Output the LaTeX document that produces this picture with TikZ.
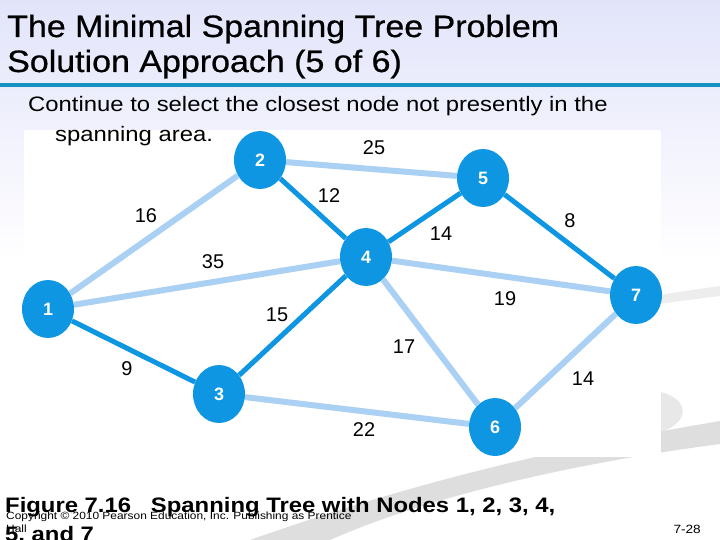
\documentclass[tikz,border=0pt]{standalone}
\usepackage{fontspec}
\setmainfont{Liberation Sans}
\newfontfamily\slidefont[FakeStretch=1.14]{Liberation Sans}
\newfontfamily\headfont[FakeStretch=1.10,FakeBold=0.7]{Liberation Sans}
\usetikzlibrary{shapes.geometric}

\definecolor{nodeblue}{RGB}{14,150,226}
\definecolor{edgelight}{RGB}{170,209,243}
\definecolor{rulecol}{RGB}{22,146,192}
\definecolor{lavender}{RGB}{226,228,250}

\tikzset{
  vertex/.style={ellipse, fill=nodeblue, minimum width=52bp, minimum height=58bp,
    inner sep=0pt, text=white, font=\fontsize{18}{18}\selectfont\bfseries},
  lightedge/.style={draw=edgelight, line width=6bp},
  treeedge/.style={draw=nodeblue, line width=5bp},
  weight/.style={font=\fontsize{20}{20}\selectfont},
  slidetext/.style={anchor=base west, inner sep=0pt}
}

\begin{document}
\begin{tikzpicture}[x=1bp,y=-1bp]
  \useasboundingbox (0,0) rectangle (720,540);
  % slide background
  \shade [top color=lavender, bottom color=white] (0,0) rectangle (720,260);
  \fill [white] (0,260) rectangle (720,540);
  \fill [black!7] (380,345) .. controls (520,318) and (620,300) .. (720,286) -- (720,296) .. controls (620,308) and (520,326) .. (380,355) -- cycle;
  \fill [black!9] (661,392) .. controls (690,400) and (690,422) .. (661,432) -- cycle;
  \fill [black!13] (250,540) .. controls (420,480) and (560,448) .. (720,421) -- (720,444) .. controls (560,465) and (420,500) .. (330,540) -- cycle;
  \fill [rulecol] (0,83) rectangle (720,87);
  \fill [white] (24,130) rectangle (661,457);

  % headings
  \node [slidetext, font=\headfont\fontsize{31}{31}\selectfont] (title1) at (7,37) {The Minimal Spanning Tree Problem};
  \node [slidetext, font=\headfont\fontsize{31}{31}\selectfont] (title2) at (7,72) {Solution Approach (5 of 6)};
  \node [slidetext, font=\slidefont\fontsize{21}{21}\selectfont] (intro1) at (28,112) {Continue to select the closest node not presently in the};
  \node [slidetext, font=\slidefont\fontsize{21}{21}\selectfont] (intro2) at (55,142) {spanning area.};

  % nodes
  \node [vertex] (n1) at (48,309) {1};
  \node [vertex] (n2) at (260,160) {2};
  \node [vertex] (n3) at (219,394) {3};
  \node [vertex] (n4) at (366,257) {4};
  \node [vertex] (n5) at (483,178) {5};
  \node [vertex] (n6) at (495,427) {6};
  \node [vertex] (n7) at (636,295) {7};

  % branches not in the tree
  \draw [lightedge] (n1) -- (n2);
  \draw [lightedge] (n1) -- (n4);
  \draw [lightedge] (n2) -- (n5);
  \draw [lightedge] (n4) -- (n7);
  \draw [lightedge] (n4) -- (n6);
  \draw [lightedge] (n3) -- (n6);
  \draw [lightedge] (n7) -- (n6);
  % branches in the tree
  \draw [treeedge] (n1) -- (n3);
  \draw [treeedge] (n3) -- (n4);
  \draw [treeedge] (n2) -- (n4);
  \draw [treeedge] (n4) -- (n5);
  \draw [treeedge] (n5) -- (n7);

  % distances
  \node [weight] (w25) at (374,148) {25};
  \node [weight] (w12) at (329,196) {12};
  \node [weight] (w16) at (146,216) {16};
  \node [weight] (w35) at (213,262) {35};
  \node [weight] (w15) at (277,315) {15};
  \node [weight] (w14a) at (441,234) {14};
  \node [weight] (w8) at (570,221) {8};
  \node [weight] (w19) at (505,299) {19};
  \node [weight] (w17) at (404,347) {17};
  \node [weight] (w14b) at (583,379) {14};
  \node [weight] (w22) at (364,430) {22};
  \node [weight] (w9) at (127,369) {9};

  % caption and footer
  \node [slidetext, font=\slidefont\fontsize{21}{21}\selectfont\bfseries] (cap1) at (5,512) {Figure 7.16\ \ \ Spanning Tree with Nodes 1, 2, 3, 4,};
  \node [slidetext, font=\slidefont\fontsize{21}{21}\selectfont\bfseries] (cap2) at (5,541) {5, and 7};
  \node [slidetext, font=\slidefont\fontsize{10.5}{10.5}\selectfont] (copy1) at (6,519) {Copyright © 2010 Pearson Education, Inc. Publishing as Prentice};
  \node [slidetext, font=\slidefont\fontsize{10.5}{10.5}\selectfont] (copy2) at (6,532) {Hall};
  \node [anchor=base east, inner sep=0pt, font=\slidefont\fontsize{12}{12}\selectfont] (page) at (701,533) {7-28};
\end{tikzpicture}
\end{document}
